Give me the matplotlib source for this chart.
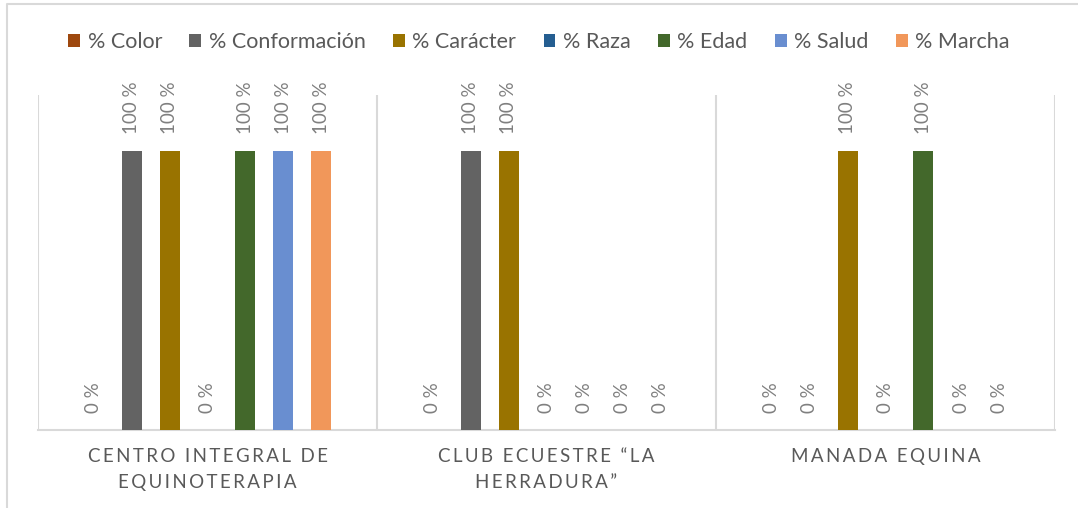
import numpy as np
import matplotlib.pyplot as plt
from matplotlib.lines import Line2D

plt.rcParams['font.family'] = ['Lato', 'DejaVu Sans']

centros = ["CENTRO INTEGRAL DE\nEQUINOTERAPIA", "CLUB ECUESTRE \u201cLA\nHERRADURA\u201d", "MANADA EQUINA"]
series = ["% Color", "% Conformación", "% Carácter", "% Raza", "% Edad", "% Salud", "% Marcha"]
color_pct = [0, 0, 0]
conformacion_pct = [100, 100, 0]
caracter_pct = [100, 100, 100]
raza_pct = [0, 0, 0]
edad_pct = [100, 0, 100]
salud_pct = [100, 0, 0]
marcha_pct = [100, 0, 0]
valores = [color_pct, conformacion_pct, caracter_pct, raza_pct, edad_pct, salud_pct, marcha_pct]
colores = ["#9E480E", "#636363", "#997300", "#255E91", "#43682B", "#698ED0", "#F1975A"]


def espaciar(texto):
    """Simulate Excel character spacing."""
    return "\n".join("\u2009".join(linea) for linea in texto.split("\n"))


fig = plt.figure(figsize=(10.78, 5.08), dpi=100)
ax = fig.add_axes([38 / 1078, 1 - 430 / 508, (1055 - 38) / 1078, (430 - 95) / 508])

x = np.arange(len(centros))
paso = 0.112
ancho = 0.059
for i, (nombre, vals, col) in enumerate(zip(series, valores, colores)):
    pos = x + (i - 3) * paso
    ax.bar(pos, vals, width=ancho, color=col, label=nombre, zorder=3)
    for px, v in zip(pos, vals):
        ax.annotate(f"{v} %", (px, v), xytext=(0, 12), textcoords="offset points",
                    rotation=90, ha="center", va="bottom", fontsize=13.5, color="#7f7f7f")

ax.set_xlim(-0.5, 2.5)
ax.set_ylim(0, 120)
ax.set_yticks([])
ax.set_xticks(x)
ax.set_xticklabels([espaciar(c) for c in centros], fontsize=13.5, color="#595959", linespacing=1.65)
ax.tick_params(axis="x", length=0, pad=13)
for b in [-0.5, 0.5, 1.5, 2.5]:
    ax.axvline(b, color="#d9d9d9", lw=1.5, zorder=1)
for s in ["top", "right", "left"]:
    ax.spines[s].set_visible(False)
ax.spines["bottom"].set_color("#d9d9d9")
ax.spines["bottom"].set_linewidth(1.5)

fig.legend(loc="center", bbox_to_anchor=(0.5, 1 - 42 / 508), ncol=7, frameon=False,
           fontsize=15.5, handlelength=0.55, handleheight=0.55, handletextpad=0.35,
           columnspacing=1.27, labelcolor="#595959")

# outer chart border
fig.add_artist(Line2D([7 / 1078, 7 / 1078, 1], [0, 1 - 4 / 508, 1 - 4 / 508],
                      transform=fig.transFigure, color="#d9d9d9", lw=1.5))

fig.savefig("out.png", dpi=100)
